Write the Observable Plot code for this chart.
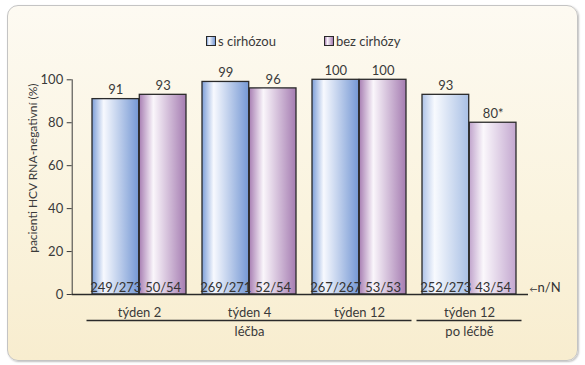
<!DOCTYPE html>
<html>
<head>
<meta charset="utf-8">
<script src="https://cdn.jsdelivr.net/npm/d3@7"></script>
<script src="https://cdn.jsdelivr.net/npm/@observablehq/plot@0.6"></script>
<style>
  html, body { margin: 0; padding: 0; background: #ffffff; }
  body { width: 585px; height: 365px; position: relative; overflow: hidden; font-family: Lato, "Open Sans", sans-serif; }
  #panel { position: absolute; left: 7px; top: 5px; width: 571px; height: 356px; box-sizing: border-box;
           border: 1px solid #c4c4c4; border-radius: 11px;
           background: linear-gradient(to bottom, #fdfaf2 0%, #faf3dd 60%, #f8edcf 100%);
           box-shadow: 1px 1px 2px rgba(0,0,0,0.25); }
  #legend { position: absolute; left: 206px; top: 33px; display: flex; align-items: center; font-size: 13px; color: #3a3a3a; }
  .item { display: flex; align-items: center; }
  .sw { width: 8px; height: 8px; border: 1px solid #2a2a2a; margin-right: 2px; }
  #chart { position: absolute; left: 0; top: 55px; }
</style>
</head>
<body>
<div id="panel"></div>
<div id="legend"></div>
<div id="chart"></div>
<script>
// ---- data ----
const groups = ["t2", "t4", "t12", "p12"];
const groupLabels = ["týden 2", "týden 4", "týden 12", "týden 12"];
const groupPhase = ["léčba", "léčba", "léčba", "po léčbě"];
const phases = ["léčba", "po léčbě"];
const series = ["s cirhózou", "bez cirhózy"];
const valuesCirh = [91, 99, 100, 93];
const valuesBez = [93, 96, 100, 80];
const labelsCirh = ["91", "99", "100", "93"];
const labelsBez = ["93", "96", "100", "80*"];
const countsCirh = ["249/273", "269/271", "267/267", "252/273"];
const countsBez = ["50/54", "52/54", "53/53", "43/54"];
const yTicks = [0, 20, 40, 60, 80, 100];
const yLabel = "pacienti HCV RNA-negativní (%)";
const nArrow = "←";
const nLabel = "n/N";

// ---- layout ----
const W = 585, H = 290;
const mL = 71.7, mR = 57, mT = 24.3, mB = 51;
const xOpts = {type: "band", domain: groups, range: [mL, W - mR], paddingInner: 0.144, paddingOuter: 0.137, align: 0.63};
const bw = Plot.scale({x: xOpts}).bandwidth;

const rows = groups.map((g, i) => ({
  group: g, label: groupLabels[i], phase: groupPhase[i],
  cirh: valuesCirh[i], bez: valuesBez[i],
  lc: labelsCirh[i], lb: labelsBez[i], nc: countsCirh[i], nb: countsBez[i],
  fillC: groupPhase[i] === phases[0] ? "url(#gBlue)" : "url(#gBlueL)",
  fillB: groupPhase[i] === phases[0] ? "url(#gPurp)" : "url(#gPurpL)"
}));
const phaseRows = phases.map(p => {
  const gs = rows.filter(r => r.phase === p);
  return {phase: p, first: gs[0].group, last: gs[gs.length - 1].group, mid: gs[Math.floor((gs.length - 1) / 2)].group};
});

const txt = "#3a3a3a";
const chart = Plot.plot({
  width: W, height: H,
  marginLeft: mL, marginRight: mR, marginTop: mT, marginBottom: mB,
  style: {background: "transparent", fontFamily: "Lato, 'Open Sans', sans-serif", fontSize: "13px", color: txt, overflow: "visible"},
  x: {...xOpts, axis: null},
  y: {domain: [0, 100], ticks: yTicks, tickSize: 5, tickPadding: 4, label: null, line: true},
  color: {type: "identity"},
  marks: [
    Plot.barY(rows, {x: "group", y: "cirh", fill: "fillC", stroke: "#2a2a2a", strokeWidth: 1.3, insetRight: bw / 2}),
    Plot.barY(rows, {x: "group", y: "bez", fill: "fillB", stroke: "#2a2a2a", strokeWidth: 1.3, insetLeft: bw / 2}),
    Plot.ruleY([0], {stroke: "#2a2a2a", strokeWidth: 1.3}),
    Plot.text(rows, {x: "group", y: "cirh", text: "lc", dx: -bw / 4, dy: -9, fill: txt}),
    Plot.text(rows, {x: "group", y: "bez", text: "lb", dx: bw / 4, dy: -9, fill: txt}),
    Plot.text(rows, {x: "group", y: 0, text: "nc", dx: -bw / 4, dy: -7, fill: "#333"}),
    Plot.text(rows, {x: "group", y: 0, text: "nb", dx: bw / 4, dy: -7, fill: "#333"}),
    Plot.text(rows, {x: "group", y: 0, text: "label", dy: 18, fill: txt}),
    Plot.ruleY(phaseRows, {x1: "first", x2: "last", y: 0, dy: 26, insetLeft: -5.5, insetRight: -5.5, stroke: "#2a2a2a", strokeWidth: 1.3}),
    Plot.text(phaseRows, {x: "mid", y: 0, text: "phase", dy: 37, fill: txt}),
    Plot.text([nArrow], {frameAnchor: "right", y: 0, text: d => d, textAnchor: "start", dx: 1, dy: -5, fontSize: 8, fill: "#333"}),
    Plot.text([nLabel], {frameAnchor: "right", y: 0, text: d => d, textAnchor: "start", dx: 9, dy: -7, fill: "#333"}),
    Plot.text([yLabel], {frameAnchor: "left", text: d => d, rotate: -90, textAnchor: "middle", dx: -39, dy: -19, fontSize: 12, fill: txt})
  ]
});

const defs = `<defs>
  <linearGradient id="gBlue" x1="0" x2="1" y1="0" y2="0">
    <stop offset="0" stop-color="#7d9fd8"/><stop offset="0.25" stop-color="#f7f9fe"/><stop offset="1" stop-color="#7598d4"/>
  </linearGradient>
  <linearGradient id="gPurp" x1="0" x2="1" y1="0" y2="0">
    <stop offset="0" stop-color="#a87fb3"/><stop offset="0.3" stop-color="#faf6fb"/><stop offset="1" stop-color="#a57cb1"/>
  </linearGradient>
  <linearGradient id="gBlueL" x1="0" x2="1" y1="0" y2="0">
    <stop offset="0" stop-color="#aec3e8"/><stop offset="0.27" stop-color="#f8fafe"/><stop offset="1" stop-color="#a9c0e5"/>
  </linearGradient>
  <linearGradient id="gPurpL" x1="0" x2="1" y1="0" y2="0">
    <stop offset="0" stop-color="#c0a4cc"/><stop offset="0.3" stop-color="#fbf8fc"/><stop offset="1" stop-color="#c3a7cf"/>
  </linearGradient>
</defs>`;
chart.insertAdjacentHTML("afterbegin", defs);
document.getElementById("chart").appendChild(chart);

// legend
const legendFills = ["linear-gradient(to right, #7d9fd8, #f7f9fe 25%, #7598d4)", "linear-gradient(to right, #a87fb3, #faf6fb 30%, #a57cb1)"];
const leg = document.getElementById("legend");
series.forEach((s, i) => {
  const it = document.createElement("div");
  it.className = "item";
  if (i === 0) it.style.marginRight = "48px";
  const sw = document.createElement("span");
  sw.className = "sw";
  sw.style.background = legendFills[i];
  const t = document.createElement("span");
  t.textContent = s;
  it.appendChild(sw); it.appendChild(t);
  leg.appendChild(it);
});
</script>
</body>
</html>
